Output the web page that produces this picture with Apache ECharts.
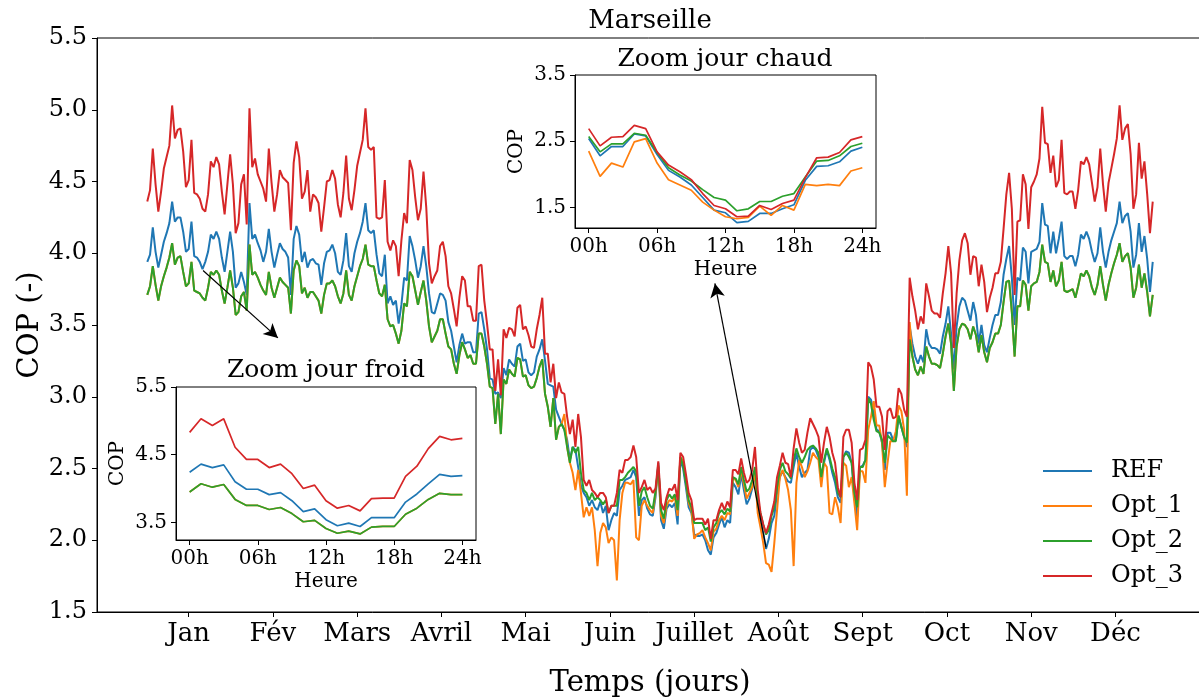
<!DOCTYPE html>
<html>
<head>
<meta charset="utf-8">
<script src="https://cdn.jsdelivr.net/npm/echarts@6/dist/echarts.min.js"></script>
<style>
  html, body { margin: 0; padding: 0; background: #fff; }
  #chart { width: 1199px; height: 698px; }
</style>
</head>
<body>
<div id="chart"></div>
<script>
// COP journalier, Marseille (jour 0 = 1er janvier)
const ref = [
  3.94,3.99,4.18,4.01,3.90,3.99,4.08,4.14,4.21,4.36, 4.22,4.25,4.25,4.15,4.01,4.03,4.22,3.98,3.97,3.94,
  3.89,3.94,4.01,4.13,4.10,4.15,4.10,3.97,3.87,4.01, 4.15,4.01,3.76,3.79,3.87,3.80,3.71,4.35,4.10,4.13,
  4.07,4.02,3.94,4.01,4.17,4.01,3.90,3.99,4.07,4.03, 4.01,3.97,3.71,4.10,4.19,4.13,3.94,4.01,3.90,3.95,
  3.96,3.93,3.92,3.78,3.93,4.01,4.02,4.06,4.00,3.87, 3.85,3.95,4.14,3.91,3.87,4.00,4.08,4.14,4.22,4.35,
  4.16,4.14,4.16,3.99,3.86,3.84,3.99,3.65,3.70,3.64, 3.67,3.51,3.64,3.83,3.81,4.12,4.05,3.95,3.83,3.91,
  4.05,3.91,3.72,3.59,3.58,3.65,3.72,3.71,3.67,3.52, 3.46,3.35,3.24,3.36,3.44,3.37,3.38,
  3.38,3.31,3.31,3.58,3.59,3.47,3.33,3.13,3.12,3.02, 3.03,2.99,3.20,3.15,3.26,3.23,3.21,3.35,3.37,3.25,
  3.26,3.17,3.15,3.17,3.28,3.33,3.40,3.25,3.09,3.08, 3.07,2.91,2.86,2.81,2.77,2.70,2.56,2.65,2.63,2.51,
  2.38,2.33,2.30,2.24,2.28,2.23,2.21,2.27,2.19,2.24, 2.07,2.14,2.19,2.17,2.35,2.38,2.42,2.43,2.44,2.49,
  2.44,2.17,2.28,2.30,2.22,2.18,2.17,2.30,2.54,2.14, 2.08,2.22,2.25,2.23,2.26,2.11,2.56,2.50,2.37,2.23,
  2.19,2.04,2.03,2.03,2.04,2.00,1.93,1.90,2.02,2.05, 2.11,2.16,2.09,2.14,2.12,2.40,2.37,2.32,2.46,2.35,
  2.25,2.29,2.36,2.47,2.23,2.12,2.05,1.94,2.01,2.12, 2.17,2.33,2.44,2.48,2.44,2.41,2.40,2.51,2.61,2.51,
  2.44,2.47,2.49,
  2.63,2.65,2.63,2.58,2.44,2.54,2.63,2.56,2.47,2.40, 2.30,2.26,2.58,2.62,2.61,2.54,2.30,2.16,2.51,2.52,
  2.56,3.00,2.98,2.89,2.77,2.76,2.68,2.49,2.75,2.75, 2.70,2.70,2.86,2.79,2.72,2.65,
  3.49,3.37,3.28,3.23,3.29,3.24,3.47,3.37,3.34,3.34, 3.33,3.30,3.42,3.51,3.63,3.44,3.19,3.49,3.63,3.69,
  3.67,3.60,3.53,3.66,
  3.57,3.37,3.50,3.36,3.31,3.41,3.50,3.57,3.57,3.66, 3.85,3.96,4.05,3.83,3.50,3.83,3.81,4.04,4.01,3.79,
  4.01,4.02,4.03,4.08,4.35,4.20,4.19,4.00,4.15,4.00, 4.10,4.22,3.98,3.96,3.98,3.98,3.91,3.99,4.13,4.10,
  4.15,4.10,4.01,3.94,4.00,4.18,4.01,3.90,4.01,4.09, 4.15,4.21,4.36,4.21,4.26,4.28,4.15,3.90,3.99,4.21,
  4.01,4.12,3.96,3.73,3.94
];

const opt1 = [
  3.71,3.77,3.91,3.78,3.67,3.77,3.84,3.90,3.97,4.07, 3.92,3.97,3.98,3.87,3.77,3.79,3.94,3.74,3.73,3.72,
  3.69,3.67,3.76,3.87,3.85,3.88,3.85,3.74,3.65,3.76, 3.88,3.76,3.57,3.59,3.70,3.73,3.60,4.06,3.85,3.87,
  3.83,3.78,3.74,3.71,3.87,3.76,3.69,3.76,3.83,3.80, 3.78,3.76,3.58,3.88,3.95,3.91,3.72,3.76,3.69,3.73,
  3.73,3.70,3.67,3.58,3.71,3.79,3.79,3.81,3.77,3.70, 3.65,3.72,3.88,3.71,3.67,3.77,3.84,3.91,3.96,4.06,
  3.92,3.91,3.91,3.81,3.72,3.70,3.78,3.54,3.49,3.50, 3.44,3.37,3.46,3.65,3.63,3.87,3.84,3.74,3.64,3.73,
  3.81,3.67,3.49,3.38,3.42,3.46,3.54,3.54,3.44,3.35, 3.33,3.23,3.16,3.29,3.38,3.33,3.27,
  3.29,3.23,3.23,3.44,3.44,3.35,3.23,3.07,3.06,2.81, 3.02,2.74,3.12,3.09,3.19,3.16,3.14,3.27,3.26,3.14,
  3.15,3.08,3.06,3.07,3.13,3.21,3.26,3.02,2.93,2.79, 2.99,2.70,2.79,
  2.81,2.88,2.65,2.54,2.47,2.35,2.49,2.33,2.16,2.23, 2.17,2.23,2.07,1.82,2.05,2.12,2.09,1.98,2.02,2.00,
  1.72,2.14,2.33,2.40,2.40,2.39,2.42,
  2.02,2.00,2.24,2.28,2.24,2.21,2.19,2.33,2.51,2.17, 2.12,2.24,2.28,2.27,2.30,2.17,2.58,2.55,2.41,2.26,
  2.21,2.01,2.04,2.05,2.07,2.02,1.98,1.93,2.06,2.08, 2.14,2.17,2.14,2.19,2.18,2.43,2.42,2.37,2.49,2.39,
  2.29,2.33,2.37,2.48,2.19,2.09,1.98,1.84,1.83,1.78, 1.98,2.21,2.44,2.49,2.43,2.35,2.21,1.82,2.40,2.56,
  2.51,2.44,2.48,
  2.54,2.61,2.58,2.56,2.37,2.54,2.51,2.19,2.18,2.30, 2.23,2.12,2.54,2.52,2.37,2.44,2.26,2.07,2.48,2.48,
  2.40,2.77,2.86,2.97,2.80,2.80,2.68,2.37,2.54,2.69, 2.69,2.76,2.94,2.90,2.77,2.31,
  3.52,3.28,3.19,3.15,3.21,3.16,3.35,3.28,3.23,3.23, 3.22,3.20,3.30,3.42,3.51,3.37,3.04,3.35,3.47,3.51,
  3.50,3.47,3.40,3.49,
  3.43,3.31,3.43,3.31,3.24,3.34,3.38,3.44,3.44,3.50, 3.66,3.80,3.81,3.59,3.28,3.63,3.63,3.81,3.78,3.60,
  3.77,3.79,3.80,3.87,4.06,3.94,3.93,3.80,3.88,3.77, 3.81,3.94,3.74,3.73,3.74,3.75,3.69,3.77,3.86,3.84,
  3.88,3.84,3.76,3.71,3.78,3.91,3.78,3.67,3.78,3.86, 3.93,3.99,4.07,3.94,3.98,4.00,3.90,3.69,3.76,3.92,
  3.76,3.86,3.73,3.56,3.71
];

const opt2 = [
  3.71,3.77,3.91,3.78,3.67,3.77,3.84,3.90,3.97,4.07, 3.92,3.97,3.98,3.87,3.77,3.79,3.94,3.74,3.73,3.72,
  3.69,3.67,3.76,3.87,3.85,3.88,3.85,3.74,3.65,3.76, 3.88,3.76,3.57,3.59,3.70,3.73,3.60,4.06,3.85,3.87,
  3.83,3.78,3.74,3.71,3.87,3.76,3.69,3.76,3.83,3.80, 3.78,3.76,3.58,3.88,3.95,3.91,3.72,3.76,3.69,3.73,
  3.73,3.70,3.67,3.58,3.71,3.79,3.79,3.81,3.77,3.70, 3.65,3.72,3.88,3.71,3.67,3.77,3.84,3.91,3.96,4.06,
  3.92,3.91,3.91,3.81,3.72,3.70,3.78,3.54,3.49,3.50, 3.44,3.37,3.46,3.65,3.63,3.87,3.84,3.74,3.64,3.73,
  3.81,3.67,3.49,3.38,3.42,3.46,3.54,3.54,3.44,3.35, 3.33,3.23,3.16,3.29,3.38,3.33,3.27,
  3.29,3.23,3.23,3.44,3.44,3.35,3.23,3.07,3.06,2.81, 3.02,2.74,3.12,3.09,3.19,3.16,3.14,3.27,3.26,3.14,
  3.15,3.08,3.06,3.07,3.13,3.21,3.26,3.02,2.93,2.79, 2.99,2.70,2.79,2.81,2.77,2.65,2.54,2.65,2.61,2.65,
  2.47,2.35,2.33,2.28,2.33,2.28,2.30,2.28,2.25,2.28, 2.19,2.24,2.24,2.24,2.42,2.42,2.44,2.47,2.49,2.51,
  2.48,2.24,2.34,2.37,2.30,2.24,2.22,2.34,2.52,2.21, 2.15,2.28,2.32,2.29,2.32,2.21,2.58,2.52,2.40,2.28,
  2.23,2.12,2.12,2.12,2.12,2.07,2.09,1.99,2.09,2.12, 2.19,2.21,2.18,2.22,2.20,2.44,2.43,2.39,2.51,2.42,
  2.34,2.36,2.42,2.51,2.28,2.19,2.11,2.04,2.07,2.17, 2.23,2.37,2.49,2.54,2.48,2.46,2.43,2.56,2.64,2.58,
  2.54,2.58,2.63,
  2.65,2.66,2.64,2.61,2.44,2.56,2.64,2.58,2.50,2.44, 2.33,2.30,2.58,2.61,2.58,2.54,2.33,2.23,2.51,2.51,
  2.56,2.99,2.95,2.84,2.76,2.75,2.70,2.54,2.73,2.71, 2.69,2.69,2.87,2.79,2.72,2.68,
  3.40,3.28,3.19,3.15,3.21,3.16,3.35,3.28,3.23,3.23, 3.22,3.20,3.30,3.42,3.51,3.37,3.04,3.35,3.47,3.51,
  3.50,3.47,3.40,3.49,
  3.43,3.31,3.43,3.31,3.24,3.34,3.38,3.44,3.44,3.50, 3.66,3.80,3.81,3.59,3.28,3.63,3.63,3.81,3.78,3.60,
  3.77,3.79,3.80,3.87,4.06,3.94,3.93,3.80,3.88,3.77, 3.81,3.94,3.74,3.73,3.74,3.75,3.69,3.77,3.86,3.84,
  3.88,3.84,3.76,3.71,3.78,3.91,3.78,3.67,3.78,3.86, 3.93,3.99,4.07,3.94,3.98,4.00,3.90,3.69,3.76,3.92,
  3.76,3.86,3.73,3.56,3.71
];

const opt3 = [
  4.36,4.44,4.73,4.48,4.29,4.43,4.59,4.67,4.75,5.03, 4.80,4.86,4.87,4.71,4.46,4.51,4.79,4.42,4.41,4.38,
  4.31,4.29,4.41,4.64,4.60,4.67,4.62,4.43,4.27,4.48, 4.69,4.48,4.14,4.21,4.48,4.55,4.20,5.01,4.60,4.66,
  4.55,4.50,4.45,4.36,4.73,4.49,4.29,4.41,4.58,4.53, 4.51,4.49,4.16,4.63,4.78,4.67,4.38,4.43,4.58,4.29,
  4.41,4.39,4.35,4.15,4.32,4.50,4.51,4.58,4.52,4.34, 4.25,4.42,4.68,4.38,4.30,4.44,4.61,4.70,4.79,5.01,
  4.74,4.72,4.74,4.25,4.24,4.25,4.51,4.08,4.02,4.09, 4.05,3.84,4.09,4.28,4.21,4.65,4.58,4.39,4.23,4.31,
  4.57,4.32,3.93,3.79,3.84,3.88,4.05,4.08,3.98,3.77, 3.72,3.61,3.49,3.69,3.84,3.81,3.63,
  3.63,3.53,3.53,3.91,3.92,3.67,3.51,3.33,3.33,3.04, 3.26,3.01,3.47,3.41,3.48,3.47,3.42,3.62,3.64,3.47,
  3.49,3.43,3.35,3.34,3.47,3.57,3.69,3.30,3.30,3.10, 3.23,2.99,3.10,3.03,3.02,2.86,2.74,2.84,2.65,2.88,
  2.72,2.42,2.38,2.42,2.35,2.33,2.30,2.33,2.33,2.30, 2.19,2.24,2.24,2.33,2.49,2.47,2.56,2.56,2.58,2.66,
  2.58,2.33,2.37,2.42,2.35,2.37,2.33,2.36,2.55,2.26, 2.21,2.30,2.36,2.35,2.39,2.28,2.61,2.58,2.46,2.33,
  2.28,2.14,2.15,2.15,2.15,2.11,2.15,2.01,2.14,2.14, 2.21,2.26,2.21,2.27,2.23,2.49,2.49,2.46,2.57,2.47,
  2.40,2.42,2.49,2.65,2.35,2.19,2.11,2.05,2.11,2.19, 2.27,2.44,2.52,2.61,2.54,2.53,2.44,2.64,2.78,2.68,
  2.61,2.63,2.75,
  2.85,2.81,2.77,2.72,2.54,2.68,2.79,2.72,2.61,2.54, 2.37,2.30,2.72,2.77,2.77,2.68,2.40,2.28,2.63,2.64,
  2.70,3.24,3.21,3.12,2.93,2.93,2.86,2.63,2.90,2.92, 2.85,2.86,3.06,3.02,2.91,2.86,
  3.83,3.70,3.60,3.47,3.56,3.51,3.79,3.70,3.60,3.58, 3.58,3.55,3.72,3.86,4.05,3.86,3.34,3.72,3.95,4.09,
  4.14,4.07,3.85,3.98,
  3.97,3.77,3.92,3.80,3.59,3.69,3.76,3.86,3.86,3.94, 4.17,4.41,4.56,4.31,3.71,4.22,4.23,4.55,4.48,4.17,
  4.46,4.50,4.55,4.66,5.02,4.77,4.76,4.56,4.68,4.46, 4.51,4.79,4.42,4.41,4.43,4.43,4.31,4.44,4.64,4.62,
  4.67,4.62,4.49,4.36,4.46,4.73,4.48,4.29,4.49,4.59, 4.69,4.80,5.03,4.79,4.87,4.90,4.69,4.31,4.41,4.77,
  4.52,4.64,4.41,4.14,4.36
];

const monthTicks = [15, 45.5, 76, 106.5, 137, 167.5, 198, 228.5, 259, 289.5, 320, 350.5];
const monthLabels = ['Jan', 'Fév', 'Mars', 'Avril', 'Mai', 'Juin', 'Juillet', 'Août', 'Sept', 'Oct', 'Nov', 'Déc'];

const hourTicks = [0, 6, 12, 18, 24];
const hourLabels = ['00h', '06h', '12h', '18h', '24h'];

// zoom jour froid (horaire)
const coldRef  = [4.24,4.36,4.31,4.35,4.10,3.99,3.99,3.91,3.94,3.82,3.66,3.70,3.54,3.45,3.49,3.44,3.57,3.57,3.57,3.80,3.92,4.07,4.21,4.18,4.19];
const coldOpt1 = [3.95,4.07,4.02,4.06,3.84,3.75,3.75,3.69,3.72,3.63,3.51,3.53,3.41,3.34,3.37,3.33,3.43,3.44,3.44,3.62,3.71,3.84,3.93,3.91,3.91];
const coldOpt2 = [3.95,4.07,4.02,4.06,3.84,3.75,3.75,3.69,3.72,3.63,3.51,3.53,3.41,3.34,3.37,3.33,3.43,3.44,3.44,3.62,3.71,3.84,3.93,3.91,3.91];
const coldOpt3 = [4.83,5.03,4.93,5.03,4.61,4.43,4.43,4.31,4.36,4.22,4.00,4.05,3.82,3.71,3.75,3.67,3.85,3.86,3.86,4.18,4.33,4.59,4.77,4.72,4.74];
const coldTicks = [3.5, 4.5, 5.5];

// zoom jour chaud (horaire)
const hotRef  = [2.54,2.28,2.42,2.42,2.61,2.58,2.30,2.06,1.96,1.84,1.65,1.46,1.42,1.27,1.29,1.41,1.41,1.48,1.54,1.91,2.12,2.13,2.19,2.35,2.41];
const hotOpt1 = [2.35,1.97,2.17,2.11,2.49,2.54,2.17,1.92,1.84,1.76,1.58,1.46,1.36,1.33,1.35,1.52,1.38,1.53,1.46,1.85,1.83,1.85,1.83,2.05,2.10];
const hotOpt2 = [2.57,2.34,2.46,2.46,2.62,2.59,2.33,2.10,1.99,1.90,1.77,1.65,1.61,1.45,1.48,1.59,1.59,1.67,1.71,1.96,2.20,2.21,2.28,2.42,2.47];
const hotOpt3 = [2.69,2.43,2.56,2.57,2.74,2.69,2.34,2.14,2.04,1.92,1.71,1.53,1.48,1.36,1.37,1.53,1.47,1.56,1.61,1.95,2.25,2.26,2.33,2.52,2.57];
const hotTicks = [1.5, 2.5, 3.5];

const names = ['REF', 'Opt_1', 'Opt_2', 'Opt_3'];
const colors = ['#1f77b4', '#ff7f0e', '#2ca02c', '#d62728'];
const font = 'DejaVu Serif';

const chart = echarts.init(document.getElementById('chart'));

function line(name, values, idx, width, color) {
  return {
    name: name,
    type: 'line',
    xAxisIndex: idx,
    yAxisIndex: idx,
    data: values.map((v, i) => [i, v]),
    symbol: 'none',
    silent: true,
    lineStyle: { color: color, width: width },
    itemStyle: { color: color }
  };
}

function insetX() {
  return {
    type: 'value', min: -1.2, max: 25.2,
    axisLine: { show: true, onZero: false, lineStyle: { color: '#000' } },
    axisTick: { show: true, customValues: hourTicks, length: 5, lineStyle: { color: '#000' } },
    axisLabel: { customValues: hourTicks, formatter: v => hourLabels[hourTicks.indexOf(v)],
                 fontFamily: font, fontSize: 20, color: '#000', margin: 9 },
    splitLine: { show: false },
    name: 'Heure', nameLocation: 'middle', nameGap: 32, nameMoveOverlap: false,
    nameTextStyle: { fontFamily: font, fontSize: 20, color: '#000' }
  };
}

function insetY(lo, hi, ticks) {
  return {
    type: 'value', min: lo, max: hi,
    axisLine: { show: true, onZero: false, lineStyle: { color: '#000' } },
    axisTick: { show: true, customValues: ticks, length: 5, lineStyle: { color: '#000' } },
    axisLabel: { customValues: ticks, formatter: v => v.toFixed(1),
                 fontFamily: font, fontSize: 20, color: '#000', margin: 9 },
    splitLine: { show: false },
    name: 'COP', nameLocation: 'middle', nameGap: 48, nameMoveOverlap: false,
    nameTextStyle: { fontFamily: font, fontSize: 20, color: '#000' }
  };
}

const mainSeries = [ref, opt1, opt2, opt3].map((d, k) => line(names[k], d, 0, 2, colors[k]));
mainSeries[0].markLine = {
  silent: true,
  symbol: ['none', 'arrow'],
  symbolSize: [11, 14],
  label: { show: false },
  lineStyle: { color: '#000', width: 1.2, type: 'solid' },
  data: [
    [{ coord: [20.2, 3.88] }, { coord: [47.3, 3.41] }],
    [{ coord: [224, 1.95] }, { coord: [205.5, 3.79] }]
  ]
};

const option = {
  animation: false,
  backgroundColor: '#fff',
  textStyle: { fontFamily: font },
  title: [
    { text: 'Marseille', left: 650, top: 8, textAlign: 'center', padding: 0,
      textStyle: { fontFamily: font, fontSize: 26, fontWeight: 'normal', color: '#000' } },
    { text: 'Zoom jour froid', left: 326, top: 358, textAlign: 'center', padding: 0,
      textStyle: { fontFamily: font, fontSize: 25, fontWeight: 'normal', color: '#000' } },
    { text: 'Zoom jour chaud', left: 725, top: 47, textAlign: 'center', padding: 0,
      textStyle: { fontFamily: font, fontSize: 25, fontWeight: 'normal', color: '#000' } }
  ],
  legend: {
    data: names,
    orient: 'vertical',
    left: 1043, top: 459,
    padding: 0,
    icon: 'rect',
    itemWidth: 49, itemHeight: 2, itemGap: 11,
    textStyle: { fontFamily: font, fontSize: 24, color: '#000', lineHeight: 24, padding: [0, 0, 0, 14] }
  },
  grid: [
    { left: 97, top: 38, width: 1106, height: 574, show: true, borderColor: '#000', borderWidth: 1,
      outerBoundsMode: 'none' },
    { left: 176, top: 387, width: 300, height: 153, show: true, borderColor: '#000', borderWidth: 1,
      backgroundColor: '#fff', outerBoundsMode: 'none' },
    { left: 575, top: 75, width: 301, height: 153, show: true, borderColor: '#000', borderWidth: 1,
      backgroundColor: '#fff', outerBoundsMode: 'none' }
  ],
  xAxis: [
    {
      gridIndex: 0, type: 'value', min: -18.2, max: 382.2,
      axisLine: { show: true, onZero: false, lineStyle: { color: '#000' } },
      axisTick: { show: true, customValues: monthTicks, length: 5, lineStyle: { color: '#000' } },
      axisLabel: { customValues: monthTicks, formatter: v => monthLabels[monthTicks.indexOf(v)],
                   fontFamily: font, fontSize: 26, color: '#000', margin: 9 },
      splitLine: { show: false },
      name: 'Temps (jours)', nameLocation: 'middle', nameGap: 57, nameMoveOverlap: false,
      nameTextStyle: { fontFamily: font, fontSize: 29, color: '#000' }
    },
    Object.assign({ gridIndex: 1 }, insetX()),
    Object.assign({ gridIndex: 2 }, insetX())
  ],
  yAxis: [
    {
      gridIndex: 0, type: 'value', min: 1.5, max: 5.5, interval: 0.5,
      axisLine: { show: true, onZero: false, lineStyle: { color: '#000' } },
      axisTick: { show: true, length: 5, lineStyle: { color: '#000' } },
      axisLabel: { formatter: v => v.toFixed(1), fontFamily: font, fontSize: 24, color: '#000', margin: 10 },
      splitLine: { show: false },
      name: 'COP (-)', nameLocation: 'middle', nameGap: 52, nameMoveOverlap: false,
      nameTextStyle: { fontFamily: font, fontSize: 29, color: '#000' }
    },
    Object.assign({ gridIndex: 1 }, insetY(3.24, 5.5, coldTicks)),
    Object.assign({ gridIndex: 2 }, insetY(1.19, 3.5, hotTicks))
  ],
  series: mainSeries
    .concat([coldRef, coldOpt1, coldOpt2, coldOpt3].map((d, k) => line(names[k], d, 1, 1.7, colors[k])))
    .concat([hotRef, hotOpt1, hotOpt2, hotOpt3].map((d, k) => line(names[k], d, 2, 1.7, colors[k])))
};

chart.setOption(option);
</script>
</body>
</html>
